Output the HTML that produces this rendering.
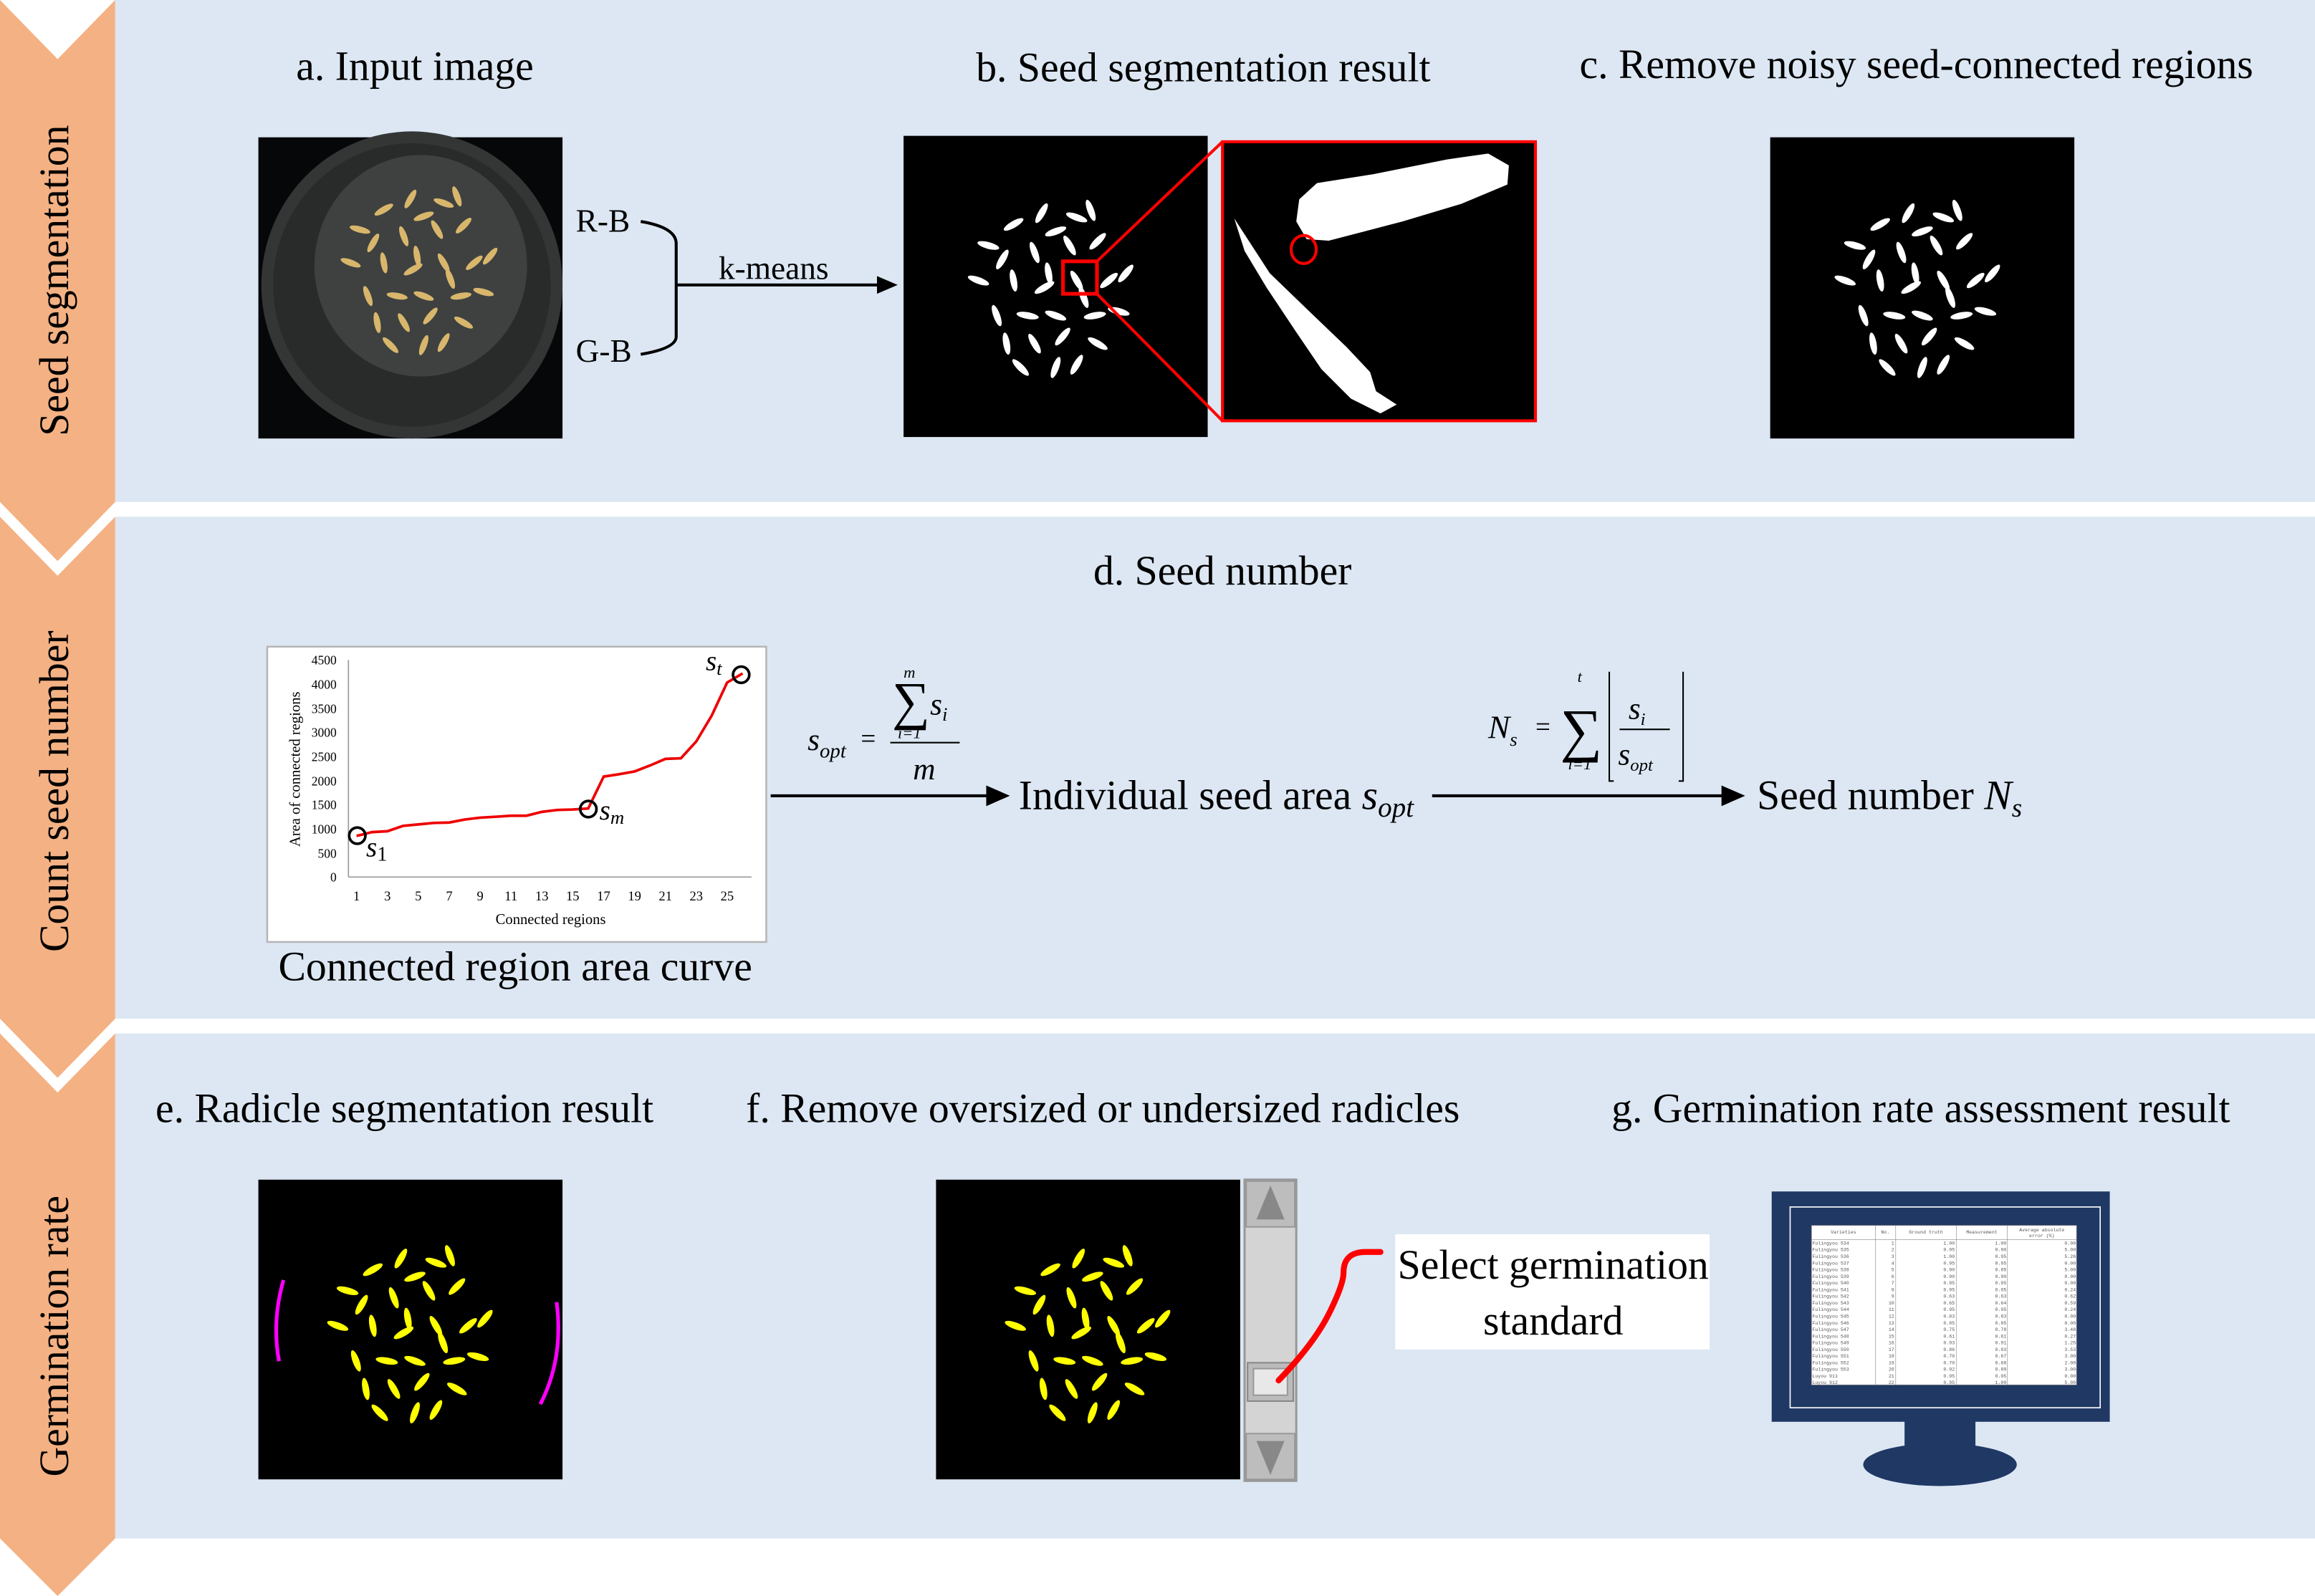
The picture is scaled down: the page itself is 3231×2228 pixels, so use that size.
<!DOCTYPE html>
<html><head><meta charset="utf-8"><style>
html,body{margin:0;padding:0;background:#fff;}
svg{display:block;}
text{font-family:"Liberation Serif",serif;fill:#000;}
.t{font-size:28px;}
.m{font-family:"Liberation Mono",monospace;font-size:3.2px;fill:#555;}
</style></head><body>
<svg width="3231" height="2228" viewBox="0 0 1568 1081" preserveAspectRatio="none" xmlns="http://www.w3.org/2000/svg">
<defs>
<g id="cl">
<ellipse cx="-30" cy="-40" rx="8" ry="2.4" transform="rotate(-30 -30 -40)"/>
<ellipse cx="-10" cy="-48" rx="8" ry="2.4" transform="rotate(-60 -10 -48)"/>
<ellipse cx="15" cy="-45" rx="8" ry="2.4" transform="rotate(20 15 -45)"/>
<ellipse cx="25" cy="-50" rx="8" ry="2.4" transform="rotate(70 25 -50)"/>
<ellipse cx="-38" cy="-15" rx="8" ry="2.4" transform="rotate(-60 -38 -15)"/>
<ellipse cx="-15" cy="-20" rx="8" ry="2.4" transform="rotate(70 -15 -20)"/>
<ellipse cx="10" cy="-25" rx="8" ry="2.4" transform="rotate(60 10 -25)"/>
<ellipse cx="30" cy="-28" rx="8" ry="2.4" transform="rotate(-45 30 -28)"/>
<ellipse cx="-55" cy="0" rx="8" ry="2.4" transform="rotate(20 -55 0)"/>
<ellipse cx="-30" cy="0" rx="8" ry="2.4" transform="rotate(80 -30 0)"/>
<ellipse cx="-8" cy="5" rx="8" ry="2.4" transform="rotate(-30 -8 5)"/>
<ellipse cx="15" cy="0" rx="8" ry="2.4" transform="rotate(60 15 0)"/>
<ellipse cx="38" cy="0" rx="8" ry="2.4" transform="rotate(-40 38 0)"/>
<ellipse cx="50" cy="-5" rx="8" ry="2.4" transform="rotate(-50 50 -5)"/>
<ellipse cx="-42" cy="25" rx="8" ry="2.4" transform="rotate(70 -42 25)"/>
<ellipse cx="-20" cy="25" rx="8" ry="2.4" transform="rotate(10 -20 25)"/>
<ellipse cx="0" cy="25" rx="8" ry="2.4" transform="rotate(20 0 25)"/>
<ellipse cx="28" cy="25" rx="8" ry="2.4" transform="rotate(-10 28 25)"/>
<ellipse cx="45" cy="22" rx="8" ry="2.4" transform="rotate(15 45 22)"/>
<ellipse cx="-35" cy="45" rx="8" ry="2.4" transform="rotate(80 -35 45)"/>
<ellipse cx="-15" cy="45" rx="8" ry="2.4" transform="rotate(60 -15 45)"/>
<ellipse cx="5" cy="40" rx="8" ry="2.4" transform="rotate(-50 5 40)"/>
<ellipse cx="30" cy="45" rx="8" ry="2.4" transform="rotate(30 30 45)"/>
<ellipse cx="-25" cy="62" rx="8" ry="2.4" transform="rotate(45 -25 62)"/>
<ellipse cx="0" cy="62" rx="8" ry="2.4" transform="rotate(-70 0 62)"/>
<ellipse cx="15" cy="60" rx="8" ry="2.4" transform="rotate(-60 15 60)"/>
<ellipse cx="-48" cy="-25" rx="8" ry="2.4" transform="rotate(15 -48 -25)"/>
<ellipse cx="20" cy="12" rx="8" ry="2.4" transform="rotate(70 20 12)"/>
<ellipse cx="-5" cy="-5" rx="8" ry="2.4" transform="rotate(80 -5 -5)"/>
<ellipse cx="0" cy="-35" rx="8" ry="2.4" transform="rotate(-20 0 -35)"/>
</g>
</defs>
<rect x="78" y="0" width="1490" height="340" fill="#DCE7F3"/>
<rect x="78" y="350" width="1490" height="340" fill="#DCE7F3"/>
<rect x="78" y="700" width="1490" height="342" fill="#DCE7F3"/>
<polygon points="0,0 39,40 78,0 78,340 39,380 0,340" fill="#F4B183"/>
<polygon points="0,350 39,390 78,350 78,690 39,730 0,690" fill="#F4B183"/>
<polygon points="0,700 39,740 78,700 78,1042 39,1081 0,1042" fill="#F4B183"/>
<text class="t" transform="translate(46,190) rotate(-90)" text-anchor="middle" font-size="29">Seed segmentation</text>
<text class="t" transform="translate(46,536) rotate(-90)" text-anchor="middle" font-size="29">Count seed number</text>
<text class="t" transform="translate(46,905) rotate(-90)" text-anchor="middle" font-size="29">Germination rate</text>

<text class="t" x="281" y="54" text-anchor="middle">a. Input image</text>
<text class="t" x="815" y="55" text-anchor="middle">b. Seed segmentation result</text>
<text class="t" x="1298" y="53" text-anchor="middle">c. Remove noisy seed-connected regions</text>
<rect x="175" y="93" width="206" height="204" fill="#050708"/>
<ellipse cx="279" cy="193" rx="102" ry="104" fill="#333635"/>
<ellipse cx="279" cy="193" rx="94" ry="96" fill="#282b2a"/>
<ellipse cx="285" cy="180" rx="72" ry="75" fill="#3e4140"/>
<use href="#cl" transform="translate(287,178) scale(0.9)" fill="#d8b66c"/>
<text x="390" y="157" font-size="22">R-B</text>
<text x="390" y="245" font-size="22">G-B</text>
<path d="M434,150 Q458,154 458,165 L458,228 Q458,236 434,240" fill="none" stroke="#000" stroke-width="2"/>
<line x1="458" y1="193" x2="594" y2="193" stroke="#000" stroke-width="2"/>
<polygon points="594,187 608,193 594,199" fill="#000"/>
<text x="524" y="189" font-size="22" text-anchor="middle">k-means</text>
<rect x="612" y="92" width="206" height="204" fill="#000"/>
<use href="#cl" transform="translate(715,190) scale(0.95)" fill="#fff"/>
<rect x="720" y="177" width="23" height="22" fill="none" stroke="#f00" stroke-width="2.5"/>
<line x1="743" y1="177" x2="828" y2="96" stroke="#f00" stroke-width="2"/>
<line x1="743" y1="199" x2="828" y2="285" stroke="#f00" stroke-width="2"/>
<rect x="828" y="96" width="212" height="189" fill="#000" stroke="#f00" stroke-width="2"/>
<polygon points="878,150 880,135 892,124 930,118 980,108 1008,104 1022,112 1021,125 990,138 950,150 900,163 885,162" fill="#fff"/>
<polygon points="836,148 860,185 888,212 912,235 928,252 932,265 946,274 935,280 915,270 895,250 878,225 858,195 843,170" fill="#fff"/>
<ellipse cx="883" cy="169" rx="8.5" ry="9.5" fill="none" stroke="#f00" stroke-width="2"/>
<rect x="1199" y="93" width="206" height="204" fill="#000"/>
<use href="#cl" transform="translate(1302,190) scale(0.95)" fill="#fff"/>

<text class="t" x="828" y="396" text-anchor="middle">d. Seed number</text>
<rect x="181" y="438" width="338" height="200" fill="#fff" stroke="#b5b5b5" stroke-width="1.2"/>
<line x1="236" y1="447" x2="236" y2="594" stroke="#999" stroke-width="0.8"/>
<line x1="236" y1="594" x2="509" y2="594" stroke="#999" stroke-width="0.8"/>
<g font-size="8.5" text-anchor="end">
<text x="228" y="597">0</text><text x="228" y="581">500</text><text x="228" y="564.5">1000</text><text x="228" y="548">1500</text><text x="228" y="532">2000</text><text x="228" y="515.5">2500</text><text x="228" y="499">3000</text><text x="228" y="483">3500</text><text x="228" y="466.5">4000</text><text x="228" y="450">4500</text>
</g>
<g font-size="9" text-anchor="middle">
<text x="241.5" y="610">1</text><text x="262.4" y="610">3</text><text x="283.3" y="610">5</text><text x="304.3" y="610">7</text><text x="325.2" y="610">9</text><text x="346.1" y="610">11</text><text x="367" y="610">13</text><text x="387.9" y="610">15</text><text x="408.9" y="610">17</text><text x="429.8" y="610">19</text><text x="450.7" y="610">21</text><text x="471.6" y="610">23</text><text x="492.5" y="610">25</text>
</g>
<text x="373" y="626" font-size="10" text-anchor="middle">Connected regions</text>
<text transform="translate(203,521) rotate(-90)" font-size="10" text-anchor="middle">Area of connected regions</text>
<polyline fill="none" stroke="#e00" stroke-width="1.8" points="241.5,566.2 252,563.6 262.4,563 272.9,559.4 283.3,558.4 293.8,557.4 304.3,557.1 314.7,555.1 325.2,553.8 335.6,553.2 346.1,552.5 356.6,552.5 367,549.9 377.5,548.6 387.9,548.3 398.4,547.6 408.9,526 419.3,524.4 429.8,522.5 440.2,518.5 450.7,514 461.2,513.6 471.6,502.2 482.1,484.6 492.5,462.3 503,456.1"/>
<ellipse cx="242" cy="566" rx="5.5" ry="5.5" fill="none" stroke="#000" stroke-width="1.8"/>
<ellipse cx="398.5" cy="548" rx="5.5" ry="5.5" fill="none" stroke="#000" stroke-width="1.8"/>
<ellipse cx="502" cy="457" rx="5.5" ry="5.5" fill="none" stroke="#000" stroke-width="1.8"/>
<text x="248" y="580" font-size="19" font-style="italic">s<tspan font-size="14" font-style="normal" dy="3">1</tspan></text>
<text x="406" y="555" font-size="19" font-style="italic">s<tspan font-size="13" dy="3">m</tspan></text>
<text x="478" y="454" font-size="19" font-style="italic">s<tspan font-size="13" dy="3">t</tspan></text>
<text class="t" x="349" y="664" text-anchor="middle">Connected region area curve</text>
<text x="547" y="508" font-size="21" font-style="italic">s<tspan font-size="14" dy="5">opt</tspan></text>
<text x="583" y="506" font-size="18">=</text>
<text x="616" y="459" font-size="11" font-style="italic" text-anchor="middle">m</text>
<text x="617" y="487" font-size="36" text-anchor="middle">∑</text>
<text x="630" y="484" font-size="21" font-style="italic">s<tspan font-size="13" dy="4">i</tspan></text>
<text x="616" y="500" font-size="11" font-style="italic" text-anchor="middle">i=1</text>
<line x1="603" y1="503" x2="650" y2="503" stroke="#000" stroke-width="1"/>
<text x="626" y="528" font-size="21" font-style="italic" text-anchor="middle">m</text>
<line x1="522" y1="539" x2="670" y2="539" stroke="#000" stroke-width="2"/>
<polygon points="668,532 684,539 668,546" fill="#000"/>
<text class="t" x="690" y="548">Individual seed area <tspan font-style="italic">s</tspan><tspan font-style="italic" font-size="19" dy="5">opt</tspan></text>
<text x="1008" y="500" font-size="22" font-style="italic">N<tspan font-size="13" dy="5">s</tspan></text>
<text x="1040" y="498" font-size="18">=</text>
<text x="1070" y="462" font-size="11" font-style="italic" text-anchor="middle">t</text>
<text x="1071" y="508" font-size="40" text-anchor="middle">∑</text>
<text x="1070" y="521" font-size="11" font-style="italic" text-anchor="middle">i=1</text>
<path d="M1090,455 L1090,529 L1093,529 M1140,455 L1140,529 L1137,529" fill="none" stroke="#000" stroke-width="1"/>
<text x="1103" y="487" font-size="21" font-style="italic">s<tspan font-size="12" dy="4">i</tspan></text>
<line x1="1097" y1="494" x2="1131" y2="494" stroke="#000" stroke-width="1"/>
<text x="1096" y="518" font-size="21" font-style="italic">s<tspan font-size="12" dy="4">opt</tspan></text>
<line x1="970" y1="539" x2="1168" y2="539" stroke="#000" stroke-width="2"/>
<polygon points="1166,532 1182,539 1166,546" fill="#000"/>
<text class="t" x="1190" y="548">Seed number <tspan font-style="italic">N</tspan><tspan font-style="italic" font-size="18" dy="5">s</tspan></text>

<text class="t" x="274" y="760" text-anchor="middle">e. Radicle segmentation result</text>
<text class="t" x="747" y="760" text-anchor="middle">f. Remove oversized or undersized radicles</text>
<text class="t" x="1301" y="760" text-anchor="middle">g. Germination rate assessment result</text>
<rect x="175" y="799" width="206" height="203" fill="#000"/>
<use href="#cl" transform="translate(281,898) scale(0.95)" fill="#ffff00"/>
<path d="M192,867 Q184,895 189,922" fill="none" stroke="#f0f" stroke-width="2.5"/>
<path d="M377,882 Q382,920 366,951" fill="none" stroke="#f0f" stroke-width="2.5"/>
<rect x="634" y="799" width="206" height="203" fill="#000"/>
<use href="#cl" transform="translate(740,898) scale(0.95)" fill="#ffff00"/>
<rect x="843" y="799" width="35" height="204" fill="#d4d4d4" stroke="#999" stroke-width="1.5"/>
<rect x="844" y="800" width="33" height="31" fill="#bdbdbd" stroke="#999" stroke-width="1"/>
<polygon points="851,826 860.5,803 870,826" fill="#888"/>
<rect x="844" y="971" width="33" height="31" fill="#bdbdbd" stroke="#999" stroke-width="1"/>
<polygon points="851,976 860.5,999 870,976" fill="#888"/>
<rect x="845" y="923" width="31" height="26" fill="#bbb" stroke="#888" stroke-width="1"/>
<rect x="849" y="927" width="23" height="18" fill="#e8e8e8" stroke="#999" stroke-width="1"/>
<path d="M866,935 Q890,910 900,890 Q910,870 910,862 Q910,848 925,848 L935,848" fill="none" stroke="#f00" stroke-width="4" stroke-linecap="round"/>
<rect x="945" y="836" width="213" height="78" fill="#fff"/>
<text class="t" x="1052" y="866" text-anchor="middle">Select germination</text>
<text class="t" x="1052" y="904" text-anchor="middle">standard</text>
<rect x="1200" y="807" width="229" height="156" fill="#1F3864"/>
<rect x="1212.5" y="817.5" width="210" height="136" fill="none" stroke="#fff" stroke-width="0.8"/>
<rect x="1290" y="962" width="48" height="20" fill="#1F3864"/>
<ellipse cx="1314" cy="992" rx="52" ry="14.5" fill="#1F3864"/>
<rect x="1227" y="830" width="179.5" height="108" fill="#fff" stroke="#888" stroke-width="0.4"/>
<g stroke="#888" stroke-width="0.3">
<line x1="1270.3" y1="830" x2="1270.3" y2="938"/><line x1="1284" y1="830" x2="1284" y2="938"/><line x1="1325" y1="830" x2="1325" y2="938"/><line x1="1359.6" y1="830" x2="1359.6" y2="938"/>
<line x1="1227" y1="839.5" x2="1406.5" y2="839.5"/>
</g>
<text class="m" x="1248.6" y="835.5" text-anchor="middle">Varieties</text>
<text class="m" x="1277" y="835.5" text-anchor="middle">No.</text>
<text class="m" x="1304.5" y="835.5" text-anchor="middle">Ground truth</text>
<text class="m" x="1342.3" y="835.5" text-anchor="middle">Measurement</text>
<text class="m" x="1383" y="834" text-anchor="middle">Average absolute</text>
<text class="m" x="1383" y="838" text-anchor="middle">error (%)</text>
<g>
<text class="m" x="1227.5" y="843">Fulingyou 534</text><text class="m" x="1227.5" y="847.5">Fulingyou 535</text><text class="m" x="1227.5" y="852">Fulingyou 536</text><text class="m" x="1227.5" y="856.5">Fulingyou 537</text><text class="m" x="1227.5" y="861">Fulingyou 538</text><text class="m" x="1227.5" y="865.5">Fulingyou 539</text><text class="m" x="1227.5" y="870">Fulingyou 540</text><text class="m" x="1227.5" y="874.5">Fulingyou 541</text><text class="m" x="1227.5" y="879">Fulingyou 542</text><text class="m" x="1227.5" y="883.5">Fulingyou 543</text><text class="m" x="1227.5" y="888">Fulingyou 544</text><text class="m" x="1227.5" y="892.5">Fulingyou 545</text><text class="m" x="1227.5" y="897">Fulingyou 546</text><text class="m" x="1227.5" y="901.5">Fulingyou 547</text><text class="m" x="1227.5" y="906">Fulingyou 548</text><text class="m" x="1227.5" y="910.5">Fulingyou 549</text><text class="m" x="1227.5" y="915">Fulingyou 550</text><text class="m" x="1227.5" y="919.5">Fulingyou 551</text><text class="m" x="1227.5" y="924">Fulingyou 552</text><text class="m" x="1227.5" y="928.5">Fulingyou 553</text><text class="m" x="1227.5" y="933">Luyou 911</text><text class="m" x="1227.5" y="937.5">Luyou 912</text>
</g>
<g text-anchor="end">
<text class="m" x="1283" y="843">1</text><text class="m" x="1283" y="847.5">2</text><text class="m" x="1283" y="852">3</text><text class="m" x="1283" y="856.5">4</text><text class="m" x="1283" y="861">5</text><text class="m" x="1283" y="865.5">6</text><text class="m" x="1283" y="870">7</text><text class="m" x="1283" y="874.5">8</text><text class="m" x="1283" y="879">9</text><text class="m" x="1283" y="883.5">10</text><text class="m" x="1283" y="888">11</text><text class="m" x="1283" y="892.5">12</text><text class="m" x="1283" y="897">13</text><text class="m" x="1283" y="901.5">14</text><text class="m" x="1283" y="906">15</text><text class="m" x="1283" y="910.5">16</text><text class="m" x="1283" y="915">17</text><text class="m" x="1283" y="919.5">18</text><text class="m" x="1283" y="924">19</text><text class="m" x="1283" y="928.5">20</text><text class="m" x="1283" y="933">21</text><text class="m" x="1283" y="937.5">22</text>
<text class="m" x="1324" y="843">1.00</text><text class="m" x="1324" y="847.5">0.95</text><text class="m" x="1324" y="852">1.00</text><text class="m" x="1324" y="856.5">0.95</text><text class="m" x="1324" y="861">0.90</text><text class="m" x="1324" y="865.5">0.90</text><text class="m" x="1324" y="870">0.95</text><text class="m" x="1324" y="874.5">0.95</text><text class="m" x="1324" y="879">0.63</text><text class="m" x="1324" y="883.5">0.65</text><text class="m" x="1324" y="888">0.95</text><text class="m" x="1324" y="892.5">0.83</text><text class="m" x="1324" y="897">0.85</text><text class="m" x="1324" y="901.5">0.75</text><text class="m" x="1324" y="906">0.61</text><text class="m" x="1324" y="910.5">0.93</text><text class="m" x="1324" y="915">0.86</text><text class="m" x="1324" y="919.5">0.70</text><text class="m" x="1324" y="924">0.70</text><text class="m" x="1324" y="928.5">0.92</text><text class="m" x="1324" y="933">0.95</text><text class="m" x="1324" y="937.5">0.95</text>
<text class="m" x="1359" y="843">1.00</text><text class="m" x="1359" y="847.5">0.90</text><text class="m" x="1359" y="852">0.95</text><text class="m" x="1359" y="856.5">0.95</text><text class="m" x="1359" y="861">0.85</text><text class="m" x="1359" y="865.5">0.90</text><text class="m" x="1359" y="870">0.95</text><text class="m" x="1359" y="874.5">0.95</text><text class="m" x="1359" y="879">0.63</text><text class="m" x="1359" y="883.5">0.64</text><text class="m" x="1359" y="888">0.95</text><text class="m" x="1359" y="892.5">0.83</text><text class="m" x="1359" y="897">0.85</text><text class="m" x="1359" y="901.5">0.78</text><text class="m" x="1359" y="906">0.61</text><text class="m" x="1359" y="910.5">0.91</text><text class="m" x="1359" y="915">0.83</text><text class="m" x="1359" y="919.5">0.67</text><text class="m" x="1359" y="924">0.68</text><text class="m" x="1359" y="928.5">0.89</text><text class="m" x="1359" y="933">0.95</text><text class="m" x="1359" y="937.5">1.00</text>
<text class="m" x="1406" y="843">0.00</text><text class="m" x="1406" y="847.5">5.00</text><text class="m" x="1406" y="852">5.26</text><text class="m" x="1406" y="856.5">0.00</text><text class="m" x="1406" y="861">5.00</text><text class="m" x="1406" y="865.5">0.00</text><text class="m" x="1406" y="870">0.00</text><text class="m" x="1406" y="874.5">0.24</text><text class="m" x="1406" y="879">0.62</text><text class="m" x="1406" y="883.5">0.59</text><text class="m" x="1406" y="888">0.24</text><text class="m" x="1406" y="892.5">0.00</text><text class="m" x="1406" y="897">0.00</text><text class="m" x="1406" y="901.5">3.48</text><text class="m" x="1406" y="906">0.27</text><text class="m" x="1406" y="910.5">1.25</text><text class="m" x="1406" y="915">3.53</text><text class="m" x="1406" y="919.5">3.00</text><text class="m" x="1406" y="924">2.00</text><text class="m" x="1406" y="928.5">3.00</text><text class="m" x="1406" y="933">0.00</text><text class="m" x="1406" y="937.5">5.00</text>
</g>
</svg>
</body></html>
